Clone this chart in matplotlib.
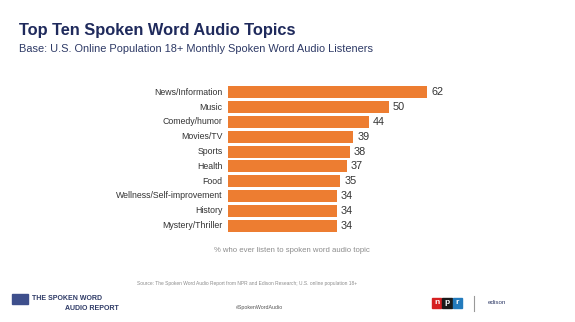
import matplotlib.pyplot as plt
from matplotlib.patches import Rectangle

topics = ["News/Information", "Music", "Comedy/humor", "Movies/TV", "Sports",
          "Health", "Food", "Wellness/Self-improvement", "History", "Mystery/Thriller"]
values = [62, 50, 44, 39, 38, 37, 35, 34, 34, 34]

W, H = 575, 322
fig = plt.figure(figsize=(W / 100, H / 100), dpi=100)
plt.rcParams['font.family'] = ['Liberation Sans', 'DejaVu Sans']

# chart area (pixel coords converted to figure fractions)
ax_l, ax_r, ax_t, ax_b = 228, 485, 85, 233
ax = fig.add_axes([ax_l / W, 1 - ax_b / H, (ax_r - ax_l) / W, (ax_b - ax_t) / H])
y = list(range(len(topics)))
ax.barh(y, values, height=0.8, color="#ED7D31")
ax.set_xlim(0, 80)
ax.set_ylim(len(topics) - 0.5, -0.5)
ax.set_yticks(y)
ax.set_yticklabels(topics, fontsize=6.3, color="#333333", va="center")
ax.tick_params(axis="y", length=0, pad=4)
ax.set_xticks([])
for s in ax.spines.values():
    s.set_visible(False)
for yi, v in zip(y, values):
    ax.text(v + 1.2, yi, str(v), va="center", ha="left", fontsize=7.8, color="#333333")

def fx(px):
    return px / W

def fy(px):
    return 1 - px / H

fig.text(fx(19), fy(31), "Top Ten Spoken Word Audio Topics", fontsize=11.8,
         fontweight="bold", color="#1F2A5C", va="center")
fig.text(fx(19), fy(49), "Base: U.S. Online Population 18+ Monthly Spoken Word Audio Listeners",
         fontsize=7.9, color="#2E3A66", va="center")
fig.text(fx(292), fy(251), "% who ever listen to spoken word audio topic",
         fontsize=5.6, color="#8C8C8C", ha="center", va="center")
fig.text(fx(247), fy(283), "Source: The Spoken Word Audio Report from NPR and Edison Research; U.S. online population 18+",
         fontsize=3.5, color="#8C8C8C", ha="center", va="center")

# footer
fig.text(fx(260), fy(308), "#SpokenWordAudio", fontsize=3.8, color="#555555",
         ha="center", va="center")
fig.text(fx(32), fy(299), "THE SPOKEN WORD", fontsize=5, fontweight="bold",
         color="#2E3A66", va="center")
fig.text(fx(65), fy(308), "AUDIO REPORT", fontsize=5, fontweight="bold",
         color="#2E3A66", va="center")
fig.patches.append(Rectangle((fx(12), fy(304)), fx(16), 10 / H, transform=fig.transFigure,
                             color="#3E4F8C", zorder=2))
for i, (c, letter) in enumerate(zip(["#D62021", "#1A1A1A", "#237BBD"], "npr")):
    x0 = 432 + i * 10.3
    fig.patches.append(Rectangle((fx(x0), fy(308)), fx(9.3), 10 / H,
                                 transform=fig.transFigure, color=c))
    fig.text(fx(x0 + 4.65), fy(303), letter, fontsize=6, fontweight="bold",
             color="white", ha="center", va="center")
fig.add_artist(plt.Line2D([fx(474), fx(474)], [fy(296), fy(311)], color="#999999", lw=0.8))
fig.text(fx(488), fy(302), "edison", fontsize=4.5, color="#2E3A66", va="center")

fig.savefig("out.png", dpi=100)
